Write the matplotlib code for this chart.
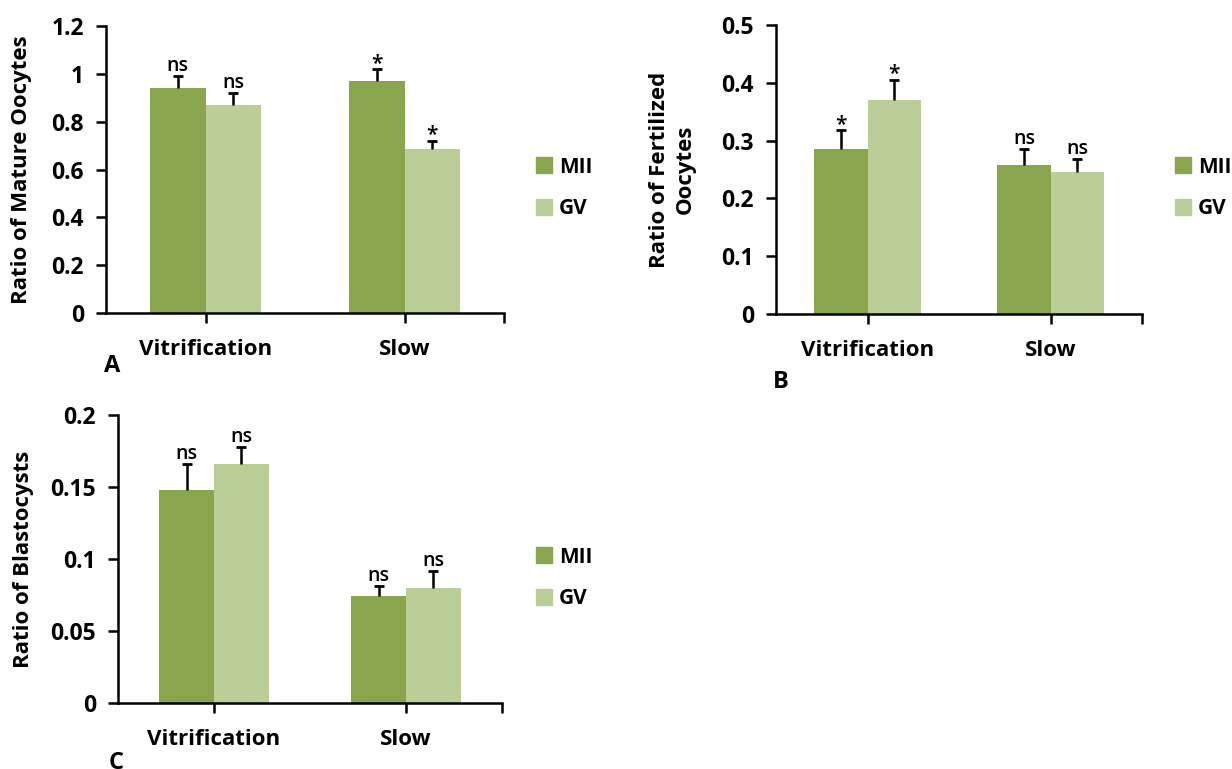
import matplotlib
matplotlib.use('Agg')
import matplotlib.pyplot as plt
import numpy as np
from matplotlib.patches import Patch
from matplotlib.ticker import FuncFormatter

plt.rcParams['font.family'] = ['Open Sans', 'DejaVu Sans']

categories = ['Vitrification', 'Slow']
series = ['MII', 'GV']

mature_mii = [0.94, 0.97]
mature_gv = [0.87, 0.685]
mature_mii_err = [0.05, 0.05]
mature_gv_err = [0.05, 0.035]
mature_mii_sig = ['ns', '*']
mature_gv_sig = ['ns', '*']

fert_mii = [0.285, 0.258]
fert_gv = [0.37, 0.245]
fert_mii_err = [0.033, 0.028]
fert_gv_err = [0.035, 0.023]
fert_mii_sig = ['*', 'ns']
fert_gv_sig = ['*', 'ns']

blast_mii = [0.148, 0.074]
blast_gv = [0.166, 0.080]
blast_mii_err = [0.018, 0.007]
blast_gv_err = [0.012, 0.012]
blast_mii_sig = ['ns', 'ns']
blast_gv_sig = ['ns', 'ns']

MII_COLOR = '#89A54E'
GV_COLOR = '#BBCE98'

W, H = 1232, 769


def px_axes(fig, left, right, top, bottom):
    return fig.add_axes([left / W, 1 - bottom / H, (right - left) / W, (bottom - top) / H])


def fmt(v, _):
    return f'{v:g}'


def draw_panel(ax, mii, gv, mii_err, gv_err, mii_sig, gv_sig, ymax, ystep, width, ylabel):
    x = np.arange(len(categories))
    for vals, errs, sigs, col, off in [(mii, mii_err, mii_sig, MII_COLOR, -width / 2),
                                       (gv, gv_err, gv_sig, GV_COLOR, width / 2)]:
        ax.bar(x + off, vals, width, color=col, zorder=2)
        _, caps, _ = ax.errorbar(x + off, vals, yerr=[np.zeros(len(vals)), errs], fmt='none',
                                 ecolor='black', elinewidth=1.8, capsize=3.5, capthick=2, zorder=3)
        caps[0].set_visible(False)
        for xi, v, e, s in zip(x + off, vals, errs, sigs):
            ax.annotate(s, (xi, v + e), xytext=(0, -4 if s == '*' else 0), textcoords='offset points',
                        ha='center', va='bottom', fontsize=15 if s == '*' else 14, color='black',
                        fontweight='semibold')
    ax.set_xlim(-0.5, 1.5)
    ax.set_ylim(0, ymax)
    ax.set_yticks(np.arange(0, ymax + ystep / 2, ystep))
    ax.yaxis.set_major_formatter(FuncFormatter(fmt))
    ax.set_xticks([0, 1, 1.5])
    ax.set_xticklabels(categories + [''])
    for sp in ['top', 'right']:
        ax.spines[sp].set_visible(False)
    for sp in ['left', 'bottom']:
        ax.spines[sp].set_linewidth(1.8)
    ax.tick_params(axis='y', length=7, width=1.8, labelsize=16.5, pad=9)
    ax.tick_params(axis='x', length=7, width=1.8, labelsize=16, pad=12)
    for lab in ax.get_yticklabels() + ax.get_xticklabels():
        lab.set_fontweight('bold')
    ax.set_ylabel(ylabel, fontsize=16, fontweight='bold', linespacing=1.25)


def add_legend(fig, x, y):
    handles = [Patch(color=MII_COLOR), Patch(color=GV_COLOR)]
    leg = fig.legend(handles, series, loc='center left', bbox_to_anchor=(x / W, 1 - y / H),
                     frameon=False, prop={'size': 15, 'weight': 'bold'}, handlelength=0.8,
                     handleheight=0.8, handletextpad=0.3, labelspacing=1.0)
    return leg


fig = plt.figure(figsize=(W / 100, H / 100), dpi=100)

ax_a = px_axes(fig, 106, 504, 26, 313)
draw_panel(ax_a, mature_mii, mature_gv, mature_mii_err, mature_gv_err, mature_mii_sig, mature_gv_sig,
           1.2, 0.2, 0.28, 'Ratio of Mature Oocytes')
ax_a.yaxis.set_label_coords(-0.185, 0.5)
add_legend(fig, 517, 188)
fig.text(112 / W, 1 - 366 / H, 'A', fontsize=17, fontweight='bold', ha='center', va='center')

ax_b = px_axes(fig, 776, 1142, 25, 314)
draw_panel(ax_b, fert_mii, fert_gv, fert_mii_err, fert_gv_err, fert_mii_sig, fert_gv_sig,
           0.5, 0.1, 0.29, 'Ratio of Fertilized\nOocytes')
ax_b.yaxis.set_label_coords(-0.22, 0.5)
add_legend(fig, 1156, 188)
fig.text(781 / W, 1 - 382 / H, 'B', fontsize=17, fontweight='bold', ha='center', va='center')

ax_c = px_axes(fig, 118, 502, 415, 703)
draw_panel(ax_c, blast_mii, blast_gv, blast_mii_err, blast_gv_err, blast_mii_sig, blast_gv_sig,
           0.2, 0.05, 0.285, 'Ratio of Blastocysts')
ax_c.yaxis.set_label_coords(-0.22, 0.5)
add_legend(fig, 517, 578)
fig.text(116 / W, 1 - 763 / H, 'C', fontsize=17, fontweight='bold', ha='center', va='center')

fig.savefig('out.png', dpi=100)
